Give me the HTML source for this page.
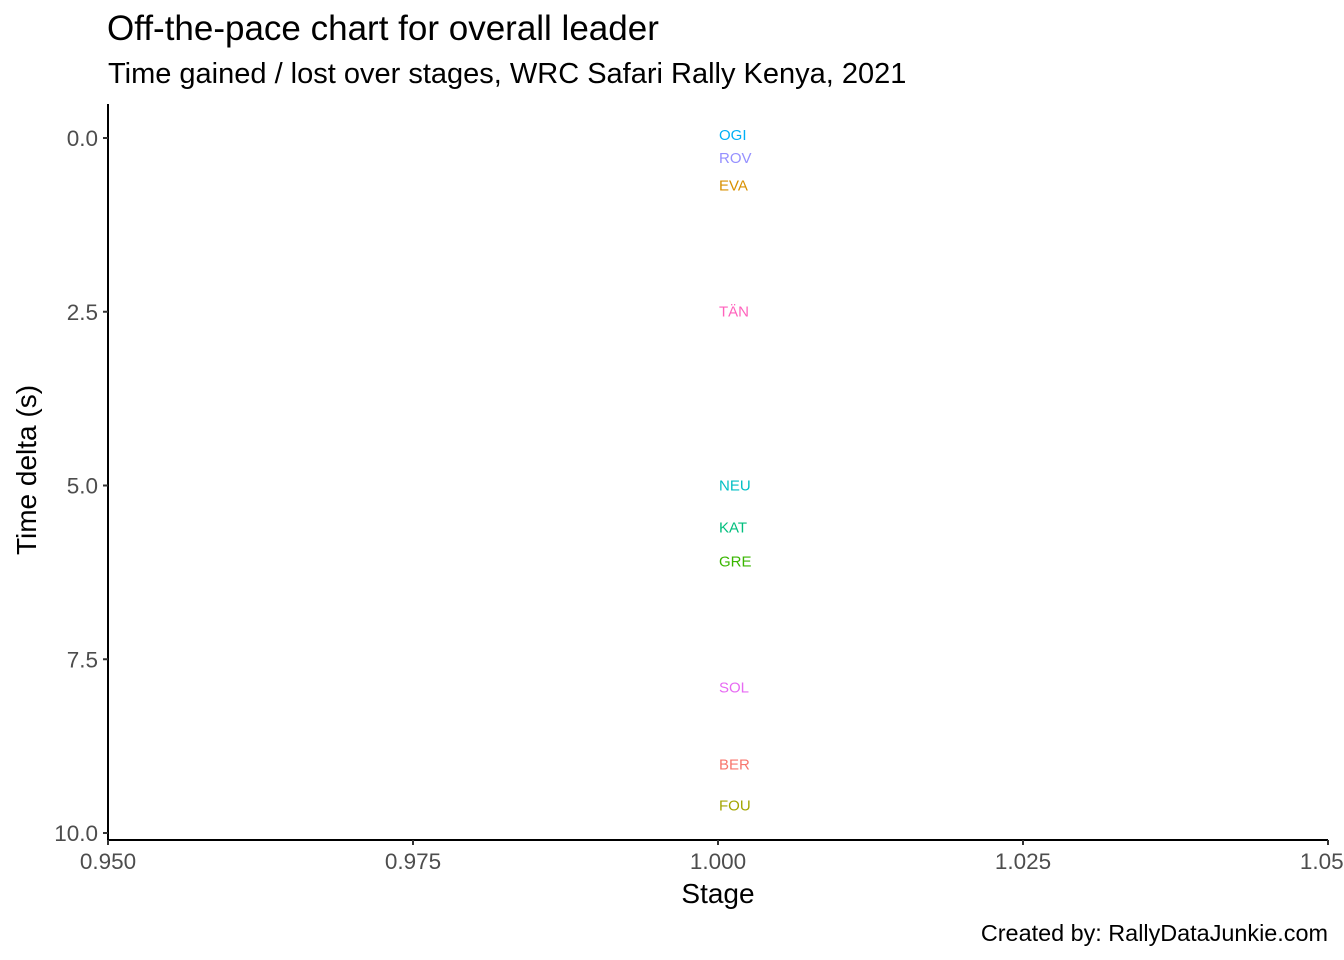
<!DOCTYPE html>
<html><head><meta charset="utf-8"><style>
body{margin:0;background:#fff}
svg{display:block;font-family:"Liberation Sans",Arial,sans-serif}
</style></head><body>
<svg id="chart" width="1344" height="960">
<text x="107" y="40" font-size="35" fill="#000">Off-the-pace chart for overall leader</text>
<text x="108" y="83" font-size="29" fill="#000">Time gained / lost over stages, WRC Safari Rally Kenya, 2021</text>
<text x="718" y="903" font-size="28" text-anchor="middle" fill="#000">Stage</text>
<text transform="translate(36,470) rotate(-90)" font-size="28" text-anchor="middle" fill="#000">Time delta (s)</text>
<text x="1328" y="941" font-size="23.4" text-anchor="end" fill="#000">Created by: RallyDataJunkie.com</text>
<g id="axes"></g>
<g id="marks"></g>
</svg>
<script>
const drivers=["OGI","ROV","EVA","TÄN","NEU","KAT","GRE","SOL","BER","FOU"];
const deltas=[0,0.33,0.73,2.54,5.04,5.65,6.14,7.95,9.06,9.65];
const stages=[1,1,1,1,1,1,1,1,1,1];
const colors=["#00B0F6","#9590FF","#D89000","#FF62BC","#00BFC4","#00BF7D","#39B600","#E76BF3","#F8766D","#A3A500"];
const xTicks=[0.95,0.975,1.0,1.025,1.05];
const xTickLabels=["0.950","0.975","1.000","1.025","1.050"];
const yTicks=[0,2.5,5,7.5,10];
const yTickLabels=["0.0","2.5","5.0","7.5","10.0"];
const NS="http://www.w3.org/2000/svg";
const X0=108,X1=1328,Y0=138,Y1=833;
function xs(v){return X0+(v-0.95)/0.1*(X1-X0);}
function ys(v){return Y0+v/10*(Y1-Y0);}
function mk(t,a,p){const e=document.createElementNS(NS,t);for(const k in a)e.setAttribute(k,a[k]);p.appendChild(e);return e;}
const ax=document.getElementById('axes'),mg=document.getElementById('marks');
let l=mk('line',{x1:X0,y1:104,x2:X0,y2:840,stroke:'#000','stroke-width':2},ax);


l=mk('line',{x1:X0-1,y1:840,x2:X1,y2:840,stroke:'#000','stroke-width':2},ax);


xTicks.forEach((v,i)=>{
 const t=mk('line',{x1:xs(v),y1:840,x2:xs(v),y2:845,stroke:'#333','stroke-width':2},ax);
 
 
 const tx=mk('text',{x:xs(v),y:869,'font-size':22.5,'text-anchor':'middle',fill:'#4d4d4d'},ax);
 tx.textContent=xTickLabels[i];
 
 
});
yTicks.forEach((v,i)=>{
 const t=mk('line',{x1:X0-5,y1:ys(v),x2:X0,y2:ys(v),stroke:'#333','stroke-width':2},ax);
 
 
 const tx=mk('text',{x:X0-10,y:ys(v)+8,'font-size':22.5,'text-anchor':'end',fill:'#4d4d4d'},ax);
 tx.textContent=yTickLabels[i];
 
 
});
drivers.forEach((d,i)=>{
 const tx=mk('text',{x:xs(stages[i])+1,y:ys(deltas[i])+2,'font-size':15,fill:colors[i]},mg);
 tx.textContent=d;
 
 
});
</script>
</body></html>
